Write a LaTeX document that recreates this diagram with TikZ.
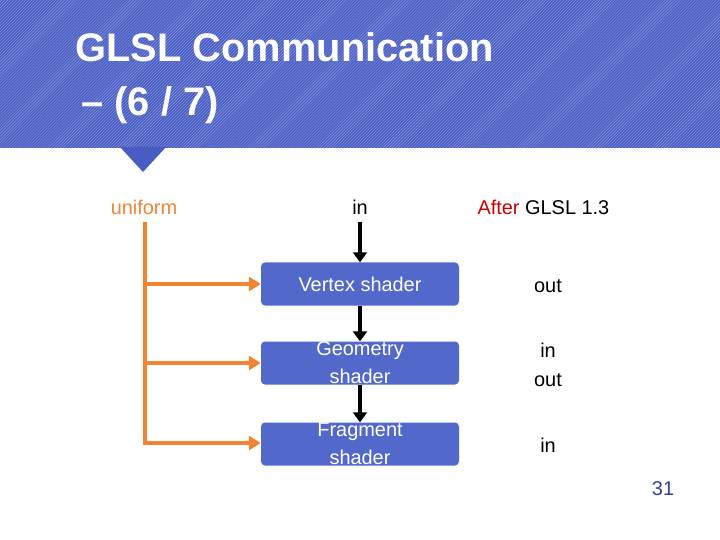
\documentclass[tikz,border=0pt]{standalone}
\usepackage{fontspec}
\setmainfont{Liberation Sans}
\usetikzlibrary{positioning,arrows.meta,patterns}
\definecolor{band}{RGB}{72,92,196}
\definecolor{boxblue}{RGB}{82,104,202}
\definecolor{uorange}{RGB}{240,132,50}
\definecolor{pagenum}{RGB}{50,62,160}
\tikzset {
    shader/.style={
        fill=boxblue,
        rectangle, % Set the shape as a rectangle
        rounded corners=4bp,
        minimum width=198bp,
        minimum height=43bp,
        text=white,
        align=center,
        font=\fontsize{20}{28}\selectfont,
        inner sep=0pt,
    },
    plain/.style={
        font=\fontsize{20}{29}\selectfont,
        align=center,
    },
    uline/.style={draw=uorange, line width=3.5bp},
    flow/.style={draw=black, line width=4bp, -{Triangle[length=10bp,width=14bp]}},
}
\begin{document}
\begin{tikzpicture}[x=1bp,y=-1bp]
    \useasboundingbox (0,0) rectangle (720,540);
    % header band
    \fill[band] (0,0) rectangle (720,148);
    \pattern[pattern=north east lines, pattern color=white!40!band] (0,0) rectangle (720,148);
    \fill[band] (120,147) -- (166,147) -- (143,172) -- cycle;
    \node[anchor=base west, text=white, font=\fontsize{40}{46}\bfseries\selectfont] (title1) at (72,62) {GLSL Communication};
    \node[anchor=base west, text=white, font=\fontsize{40}{46}\bfseries\selectfont] (title2) at (78,116) {– (6 / 7)};

    \node[plain, text=uorange] at (144,207) (uniform) {uniform};
    \node[plain] at (360,207) (in) {in};
    \node[plain, anchor=west] at (474,207) (after) {\textcolor{red!80!black}{After} GLSL 1.3};

    \node[shader] at (360,284) (vertex) {Vertex shader};
    \node[shader] at (360,363) (geometry) {Geometry\\shader};
    \node[shader] at (360,444) (fragment) {Fragment\\shader};

    \node[plain] at (548,286) (vout) {out};
    \node[plain] at (548,365) (ginout) {in\\out};
    \node[plain] at (548,445) (fin) {in};
    \node[plain, text=pagenum] at (663,489) (page) {31};

    \coordinate (utop) at (145,222);
    \coordinate (u1) at (145,284);
    \coordinate (u2) at (145,363);
    \coordinate (u3) at (145,443);
    \draw[uline] (utop) -- (u3 |- 0,445);
    \draw[uline, -{Triangle[length=12bp,width=14bp]}] (u1) -- (vertex.west);
    \draw[uline, -{Triangle[length=12bp,width=14bp]}] (u2) -- (geometry.west);
    \draw[uline, -{Triangle[length=12bp,width=14bp]}] (u3) -- (fragment.west |- u3);

    \draw[flow] (360,222) -- (vertex.north);
    \draw[flow] (vertex.south) -- (geometry.north);
    \draw[flow] (geometry.south) -- (fragment.north);
\end{tikzpicture}
\end{document}
